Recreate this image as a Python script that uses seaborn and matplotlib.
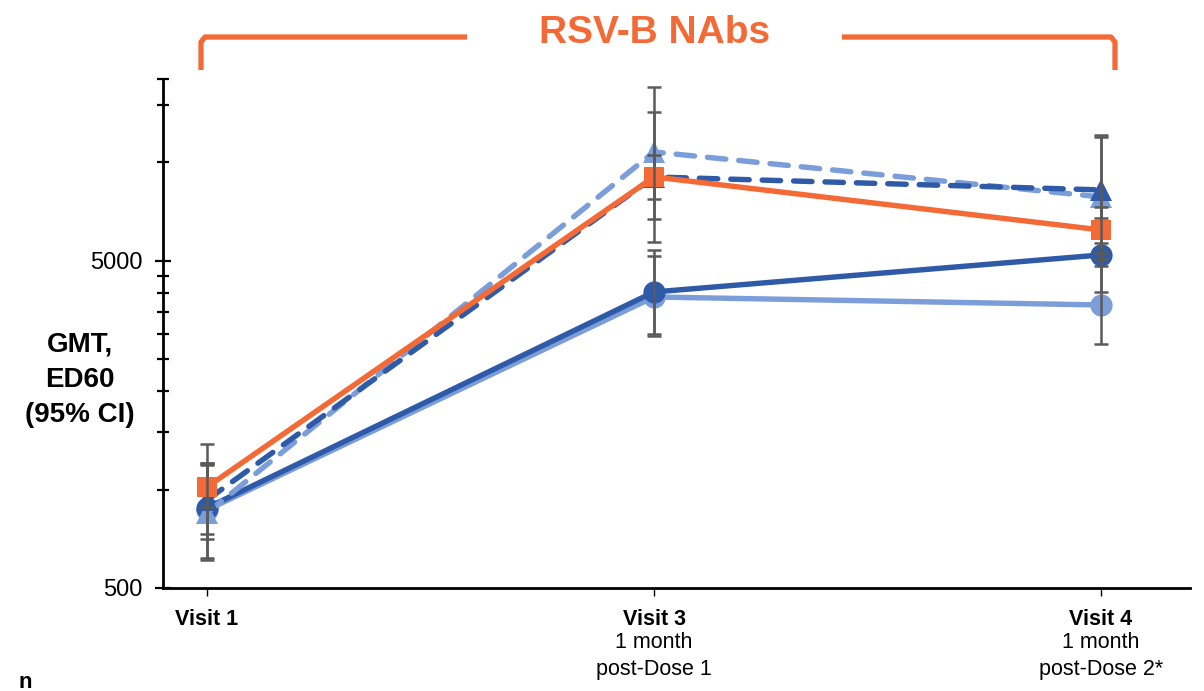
import numpy as np
import pandas as pd
import matplotlib
matplotlib.use("Agg")
import matplotlib.pyplot as plt
import matplotlib.ticker as mticker
from matplotlib.lines import Line2D
import seaborn as sns

# visits on the x axis
visits = ["Visit 1", "Visit 3", "Visit 4"]
visit_notes = ["", "1 month\npost-Dose 1", "1 month\npost-Dose 2*"]
visit_pos = [0, 1, 2]

# GMT values (ED60) and 95% CI per series
light_circ = [866, 3880, 3667]
light_circ_lo = [731, 2948, 2787]
light_circ_hi = [1194, 5180, 4827]

dark_circ = [879, 4019, 5216]
dark_circ_lo = [706, 2990, 4005]
dark_circ_hi = [1208, 5405, 6781]

light_tri = [848, 10771, 7846]
light_tri_lo = [609, 6721, 5070]
light_tri_hi = [1208, 17060, 11972]

dark_tri = [929, 9033, 8244]
dark_tri_lo = [617, 5731, 5683]
dark_tri_hi = [1379, 14278, 12142]

orange_sq = [1018, 9033, 6219]
orange_sq_lo = [884, 7739, 5300]
orange_sq_hi = [1189, 10548, 7314]

ORANGE = "#F46A36"
DARK = "#2F5AA8"
LIGHT = "#7B9DDA"
GREY = "#5A5A5A"

sns.set_style("white")
plt.rcParams["font.family"] = ["Liberation Sans", "DejaVu Sans"]
plt.rcParams["text.color"] = "black"

fig = plt.figure(figsize=(12.04, 6.91), dpi=100)
ax = fig.add_axes([163 / 1204, 1 - 588 / 691, 1027 / 1204, 509 / 691])

series = [
    (light_circ, light_circ_lo, light_circ_hi, LIGHT, "o", "-", 16),
    (dark_circ, dark_circ_lo, dark_circ_hi, DARK, "o", "-", 16),
    (light_tri, light_tri_lo, light_tri_hi, LIGHT, "^", (0, (3.4, 2.4)), 16),
    (dark_tri, dark_tri_lo, dark_tri_hi, DARK, "^", (0, (3.4, 2.4)), 16),
    (orange_sq, orange_sq_lo, orange_sq_hi, ORANGE, "s", "-", 14.5),
]

z = 2
for vals, lo, hi, col, mk, ls, ms in series:
    vals = np.array(vals, dtype=float)
    yerr = [vals - np.array(lo), np.array(hi) - vals]
    sns.lineplot(x=visit_pos, y=vals, ax=ax, color=col, marker=mk,
                 markersize=ms, markeredgewidth=0, linewidth=3.9,
                 linestyle=ls, dash_capstyle="round", errorbar=None,
                 zorder=z)
    ax.errorbar(visit_pos, vals, yerr=yerr, fmt="none", ecolor=GREY,
                elinewidth=1.8, capsize=4.8, capthick=1.8, zorder=z + 0.5)
    z += 1

ax.set_yscale("log")
ax.set_ylim(500, 18000)
ax.set_xlim(-0.0984, 2.199)

ax.yaxis.set_major_locator(mticker.FixedLocator([500, 5000]))
ax.yaxis.set_major_formatter(mticker.FixedFormatter(["500", "5000"]))
minor = list(range(1000, 5000, 500)) + [10000, 15000, 18000]
ax.yaxis.set_minor_locator(mticker.FixedLocator(minor))
ax.yaxis.set_minor_formatter(mticker.NullFormatter())
ax.tick_params(axis="y", which="both", left=True, color="black")
ax.tick_params(axis="y", which="major", direction="inout", length=11,
               width=1.6, labelsize=17, pad=9, labelcolor="black")
ax.tick_params(axis="y", which="minor", direction="inout", length=8,
               width=1.6)

ax.set_xticks(visit_pos)
ax.set_xticklabels(visits, fontweight="bold")
ax.tick_params(axis="x", bottom=True, direction="out", length=6, width=1.0,
               color="black", labelsize=15.5, pad=9, labelcolor="black")

for s in ["top", "right"]:
    ax.spines[s].set_visible(False)
for s in ["left", "bottom"]:
    ax.spines[s].set_color("black")
    ax.spines[s].set_linewidth(2)

for p, note in zip(visit_pos, visit_notes):
    if note:
        ax.text(p, -0.086, note, transform=ax.get_xaxis_transform(),
                ha="center", va="top", fontsize=15.5, linespacing=1.4,
                color="black")

fig.text(80 / 1204, 1 - 380 / 691, "GMT,\nED60\n(95% CI)", ha="center",
         va="center", fontsize=20, fontweight="bold", linespacing=1.45,
         color="black")

fig.text(655 / 1204, 1 - 33 / 691, "RSV-B NAbs", ha="center", va="center",
         fontsize=28, fontweight="bold", color=ORANGE)

# orange bracket around the title
def px(pts):
    return [p[0] / 1204 for p in pts], [1 - p[1] / 691 for p in pts]

for pts in ([(201, 70), (201, 42), (205, 37), (467, 37)],
            [(842, 37), (1111, 37), (1115, 42), (1115, 70)]):
    xs, ys = px(pts)
    fig.add_artist(Line2D(xs, ys, transform=fig.transFigure, color=ORANGE,
                          linewidth=3.8, solid_joinstyle="round",
                          solid_capstyle="butt"))

fig.text(25 / 1204, 3 / 691, "n", ha="center", va="baseline", fontsize=16,
         fontweight="bold", color="black")

fig.savefig("out.png", dpi=100)
